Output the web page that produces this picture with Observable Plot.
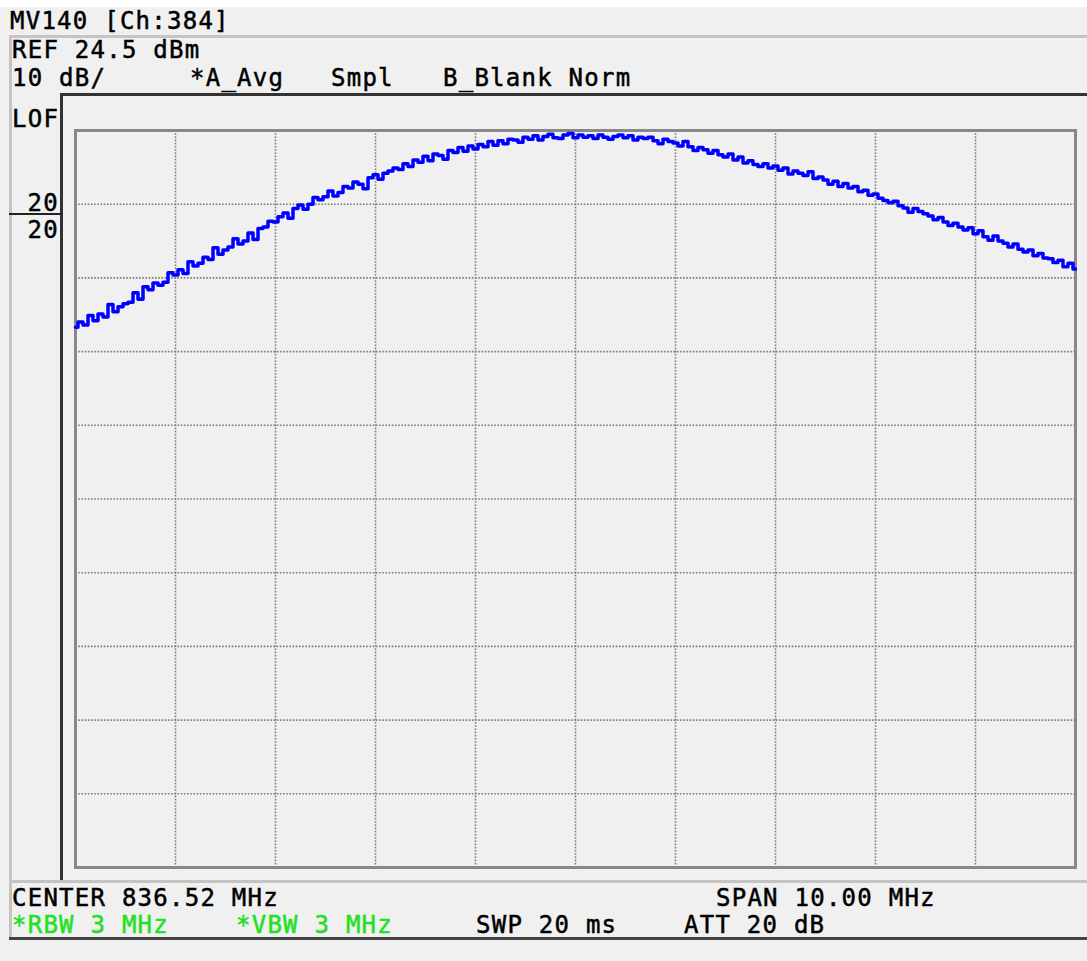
<!DOCTYPE html>
<html>
<head>
<meta charset="utf-8">
<script src="https://cdn.jsdelivr.net/npm/d3@7"></script>
<script src="https://cdn.jsdelivr.net/npm/@observablehq/plot@0.6"></script>
<style>
  html, body { margin: 0; padding: 0; background: #f0f0f0; }
  #page { position: relative; width: 1087px; height: 961px; overflow: hidden; background: #f0f0f0; }
  .t { position: absolute; font-family: "DejaVu Sans Mono", monospace; font-size: 24px; line-height: 24px;
       letter-spacing: 1.25px; color: #000; white-space: pre; -webkit-text-stroke: 0.5px currentColor; }
  .g { color: #22e022; }
  .ln { position: absolute; }
  #chart { position: absolute; left: 0; top: 94px; }
</style>
</head>
<body>
<div id="page">
  <div class="ln" style="left:0;top:0;width:1087px;height:7px;background:#ffffff"></div>
  <div class="ln" style="left:9px;top:35px;width:1078px;height:3px;background:#c4c4c4"></div>
  <div class="ln" style="left:9px;top:35px;width:3px;height:905px;background:#c4c4c4"></div>
  <div class="ln" style="left:60px;top:93px;width:1027px;height:3px;background:#333"></div>
  <div class="ln" style="left:60px;top:93px;width:3px;height:788px;background:#333"></div>
  <div class="ln" style="left:9px;top:213px;width:53px;height:2px;background:#222"></div>
  <div class="ln" style="left:9px;top:880px;width:1078px;height:3px;background:#c4c4c4"></div>
  <div class="ln" style="left:9px;top:937px;width:1078px;height:3px;background:#444"></div>
  <div id="chart"></div>
</div>
<script>
// ---- instrument settings / labels ----
const centerFreq = 836.52;   // MHz
const spanFreq = 10.00;      // MHz
const refLevel = 24.5;       // dBm (top of screen)
const dbPerDiv = 10;
const divisionsX = 10;
const divisionsY = 10;

const headerLabels = [
  {text: "MV140 [Ch:384]", x: 10, base: 29},
  {text: "REF 24.5 dBm", x: 12, base: 58},
  {text: "10 dB/", x: 12, base: 86},
  {text: "*A_Avg", x: 190, base: 86},
  {text: "Smpl", x: 331, base: 86},
  {text: "B_Blank Norm", x: 443, base: 86},
  {text: "LOF", x: 12, base: 127}
];
const footerLabels = [
  {text: "CENTER 836.52 MHz", x: 12, base: 906, green: false},
  {text: "SPAN 10.00 MHz", x: 716, base: 906, green: false},
  {text: "*RBW 3 MHz", x: 12, base: 933, green: true},
  {text: "*VBW 3 MHz", x: 236, base: 933, green: true},
  {text: "SWP 20 ms", x: 476, base: 933, green: false},
  {text: "ATT 20 dB", x: 684, base: 933, green: false}
];
const sideLabels = [
  {text: "20", right: 58, base: 211},
  {text: "20", right: 58, base: 238}
];

// ---- trace A (averaged), dBm, 201 sweep points across the span ----
const traceA = [
  -2.2, -1.5, -1.9, -0.6, -1.3,
  -0.4, -0.8, 0.9, -0.1, 0.6,
  1.0, 1.2, 2.5, 1.6, 3.3,
  2.9, 3.8, 3.5, 3.9, 5.2,
  4.9, 5.6, 5.1, 6.7, 6.1,
  6.5, 7.3, 7.0, 8.6, 7.7,
  8.3, 8.7, 9.8, 9.1, 9.5,
  10.6, 9.7, 11.2, 11.4, 12.2,
  12.1, 12.8, 13.3, 12.6, 13.9,
  14.4, 13.8, 14.5, 15.4, 15.1,
  15.5, 16.3, 15.6, 16.1, 16.9,
  16.7, 17.5, 17.2, 16.6, 18.1,
  18.5, 17.9, 18.7, 19.0, 19.4,
  19.2, 20.0, 19.6, 20.5, 20.2,
  21.0, 20.4, 21.3, 21.1, 20.6,
  21.8, 21.5, 22.2, 21.7, 22.4,
  22.0, 22.6, 22.3, 23.0, 22.5,
  23.1, 22.7, 23.3, 23.2, 22.9,
  23.6, 23.3, 23.8, 23.2, 23.7,
  24.0, 23.5, 23.4, 23.9, 24.1,
  23.5, 23.9, 23.6, 23.8, 23.4,
  23.9, 23.6, 23.3, 23.7, 23.9,
  23.5, 23.8, 23.2, 23.6, 23.4,
  23.6, 23.1, 22.7, 23.3, 23.0,
  22.8, 22.4, 23.0, 22.3, 21.8,
  22.2, 21.9, 21.4, 21.8, 21.2,
  20.9, 21.3, 20.5, 20.9, 20.1,
  20.4, 19.9, 19.6, 20.0, 19.4,
  19.7, 19.1, 19.4, 18.6, 19.0,
  18.7, 18.4, 18.9, 18.0, 18.2,
  17.8, 17.2, 17.6, 16.9, 17.3,
  16.7, 16.9, 16.2, 16.4, 15.7,
  15.9, 15.3, 15.0, 14.7, 14.9,
  14.3, 14.0, 13.4, 13.9, 13.5,
  13.2, 12.9, 12.4, 12.7, 12.1,
  11.6, 11.9, 11.4, 11.0, 11.3,
  10.5, 10.9, 10.1, 9.6, 10.2,
  9.5, 9.2, 8.7, 9.1, 8.4,
  8.0, 8.3, 7.5, 7.8, 7.2,
  7.1, 6.6, 6.9, 6.0, 6.5,
  5.7
];

// ---- build ----
const startFreq = centerFreq - spanFreq / 2;
const stopFreq = centerFreq + spanFreq / 2;
const bottomLevel = refLevel - dbPerDiv * divisionsY;
const gridFreqs = d3.range(1, divisionsX).map(i => startFreq + i * spanFreq / divisionsX);
const gridLevels = d3.range(1, divisionsY).map(i => refLevel - i * dbPerDiv);
const trace = traceA.map((v, i) => ({f: startFreq + i * spanFreq / (traceA.length - 1), dbm: v}));

const page = document.getElementById("page");
function addLabel(l, cls) {
  const d = document.createElement("div");
  d.className = "t" + (cls ? " " + cls : "");
  d.textContent = l.text;
  d.style.top = (l.base - 20) + "px";
  if (l.right !== undefined) { d.style.left = (l.right - l.text.length * 15.7 + 1) + "px"; }
  else d.style.left = l.x + "px";
  page.appendChild(d);
}
headerLabels.forEach(l => addLabel(l));
footerLabels.forEach(l => addLabel(l, l.green ? "g" : ""));
sideLabels.forEach(l => addLabel(l));

const chart = Plot.plot({
  width: 1087,
  height: 786,
  marginTop: 36,
  marginBottom: 13,
  marginLeft: 75,
  marginRight: 12,
  x: {domain: [startFreq, stopFreq], axis: null},
  y: {domain: [bottomLevel, refLevel], axis: null},
  style: {background: "transparent", overflow: "visible"},
  marks: [
    Plot.gridX(gridFreqs, {stroke: "#7c7c7c", strokeOpacity: 1, strokeWidth: 1.6, strokeDasharray: "1.6,1.6"}),
    Plot.gridY(gridLevels, {stroke: "#7c7c7c", strokeOpacity: 1, strokeWidth: 1.6, strokeDasharray: "1.6,1.6"}),
    Plot.frame({stroke: "#888888", strokeWidth: 3}),
    Plot.line(trace, {x: "f", y: "dbm", stroke: "#0000ff", strokeWidth: 3.5, curve: "step"})
  ]
});
document.getElementById("chart").appendChild(chart);
</script>
</body>
</html>
